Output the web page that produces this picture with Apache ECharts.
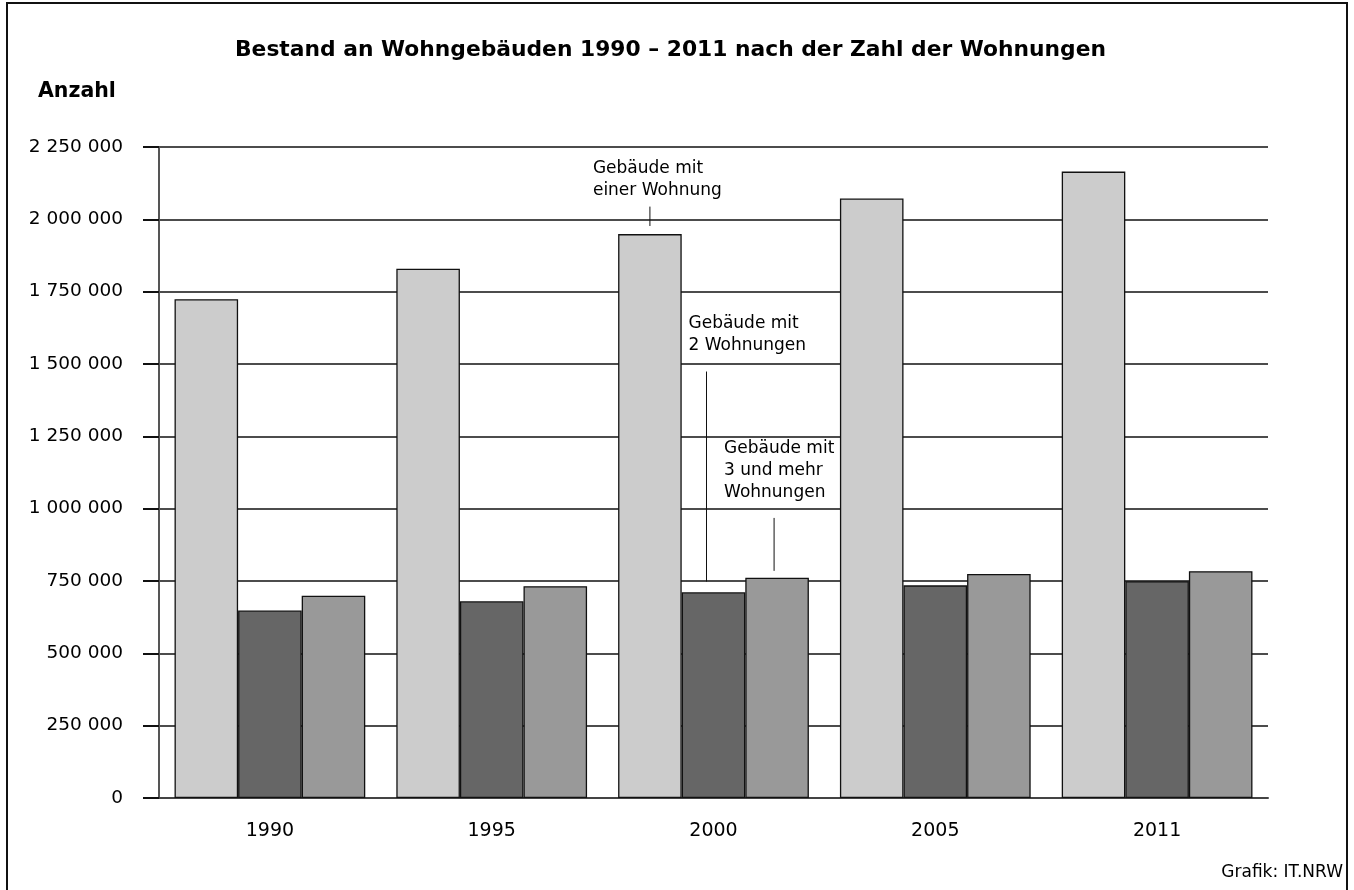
<!DOCTYPE html>
<html>
<head>
<meta charset="utf-8">
<title>Bestand an Wohngebäuden 1990 – 2011</title>
<script src="https://cdn.jsdelivr.net/npm/echarts@6/dist/echarts.min.js"></script>
<style>
  html, body { margin: 0; padding: 0; background: #fff; }
  #chart { width: 1354px; height: 890px; }
</style>
</head>
<body>
<div id="chart"></div>
<script>
// Jahre und Werte (Anzahl Wohngebäude)
const years = ['1990', '1995', '2000', '2005', '2011'];
const einWohnung = [1724000, 1829000, 1949000, 2072000, 2165000];
const zweiWohnungen = [648000, 680000, 711000, 735000, 749000];
const dreiUndMehr = [699000, 732000, 761000, 774000, 784000];
const seriesNames = ['Gebäude mit einer Wohnung', 'Gebäude mit 2 Wohnungen', 'Gebäude mit 3 und mehr Wohnungen'];

// Beschriftungen im Diagramm: [Kategorie, Balken, Linie von, Linie bis, Textoberkante]
const annoRows = [
  [2, 0, 1977000, 2044000, 2214000],
  [2, 1, 748000, 1474000, 1676000],
  [2, 2, 785000, 968000, 1245000]
];
const annoTexts = ['Gebäude mit\neiner Wohnung', 'Gebäude mit\n2 Wohnungen', 'Gebäude mit\n3 und mehr\nWohnungen'];

const FONT = 'DejaVu Sans';
const gapRatio = 0.14;
const lineDx = [0, -7, -3];      // Versatz der Linie gegen Balkenmitte
const textDx = [-57, -18, -50];  // Textanfang relativ zur Linie

var chartDom = document.getElementById('chart');
var myChart = echarts.init(chartDom, null, { renderer: 'canvas' });
var option;

function fmt(v) {
  return String(v).replace(/\B(?=(\d{3})+(?!\d))/g, ' ');
}

function barStyle(color) {
  return { color: color, borderColor: '#111', borderWidth: 1.3 };
}

option = {
  animation: false,
  backgroundColor: '#fff',
  textStyle: { fontFamily: FONT },
  title: [
    {
      text: 'Bestand an Wohngebäuden 1990 – 2011 nach der Zahl der Wohnungen',
      left: 235,
      top: 39,
      padding: 0,
      textStyle: { fontFamily: FONT, fontSize: 21.8, fontWeight: 'bold', color: '#000' }
    },
    {
      text: 'Anzahl',
      left: 38,
      top: 81,
      padding: 0,
      textStyle: { fontFamily: FONT, fontSize: 20.5, fontWeight: 'bold', color: '#000' }
    },
    {
      text: 'Grafik: IT.NRW',
      right: 11,
      top: 864,
      padding: 0,
      textStyle: { fontFamily: FONT, fontSize: 17, fontWeight: 'normal', color: '#000' }
    }
  ],
  graphic: [
    {
      type: 'rect',
      shape: { x: 7, y: 3, width: 1340, height: 900 },
      style: { fill: 'none', stroke: '#111', lineWidth: 2 },
      silent: true
    }
  ],
  grid: { left: 159, right: 86, top: 147, bottom: 92 },
  xAxis: {
    type: 'category',
    data: years,
    axisTick: { show: false },
    axisLine: { lineStyle: { color: '#444', width: 2 } },
    axisLabel: { color: '#000', fontSize: 19, fontFamily: FONT, margin: 24 }
  },
  yAxis: {
    type: 'value',
    min: 0,
    max: 2250000,
    interval: 250000,
    axisLine: { show: true, lineStyle: { color: '#555', width: 2 } },
    axisTick: { show: true, length: 16, lineStyle: { color: '#111', width: 2 } },
    axisLabel: { color: '#000', fontSize: 18.5, fontFamily: FONT, margin: 36, formatter: fmt },
    splitLine: { lineStyle: { color: '#111', width: 1.5 } }
  },
  series: [
    {
      name: seriesNames[0],
      type: 'bar',
      barGap: '0%',
      barCategoryGap: (gapRatio * 100) + '%',
      itemStyle: barStyle('#cccccc'),
      data: einWohnung
    },
    {
      name: seriesNames[1],
      type: 'bar',
      barGap: '0%',
      barCategoryGap: (gapRatio * 100) + '%',
      itemStyle: barStyle('#666666'),
      data: zweiWohnungen
    },
    {
      name: seriesNames[2],
      type: 'bar',
      barGap: '0%',
      barCategoryGap: (gapRatio * 100) + '%',
      itemStyle: barStyle('#999999'),
      data: dreiUndMehr
    },
    {
      type: 'custom',
      silent: true,
      z: 5,
      data: annoRows,
      renderItem: function (params, api) {
        const idx = params.dataIndex;
        const slot = api.value(1);
        const band = api.size([1, 0])[0];
        const bw = band * (1 - gapRatio) / 3;
        const p1 = api.coord([api.value(0), api.value(2)]);
        const p2 = api.coord([api.value(0), api.value(3)]);
        const pt = api.coord([api.value(0), api.value(4)]);
        const x = p1[0] + (slot - 1) * bw + lineDx[idx];
        return {
          type: 'group',
          children: [
            {
              type: 'line',
              shape: { x1: x, y1: p1[1], x2: x, y2: p2[1] },
              style: { stroke: '#111', lineWidth: 1 }
            },
            {
              type: 'text',
              x: x + textDx[idx],
              y: pt[1],
              style: {
                text: annoTexts[idx],
                fill: '#000',
                font: '17px "' + FONT + '"',
                lineHeight: 22,
                align: 'left',
                verticalAlign: 'top'
              }
            }
          ]
        };
      }
    }
  ]
};

option && myChart.setOption(option);
</script>
</body>
</html>
